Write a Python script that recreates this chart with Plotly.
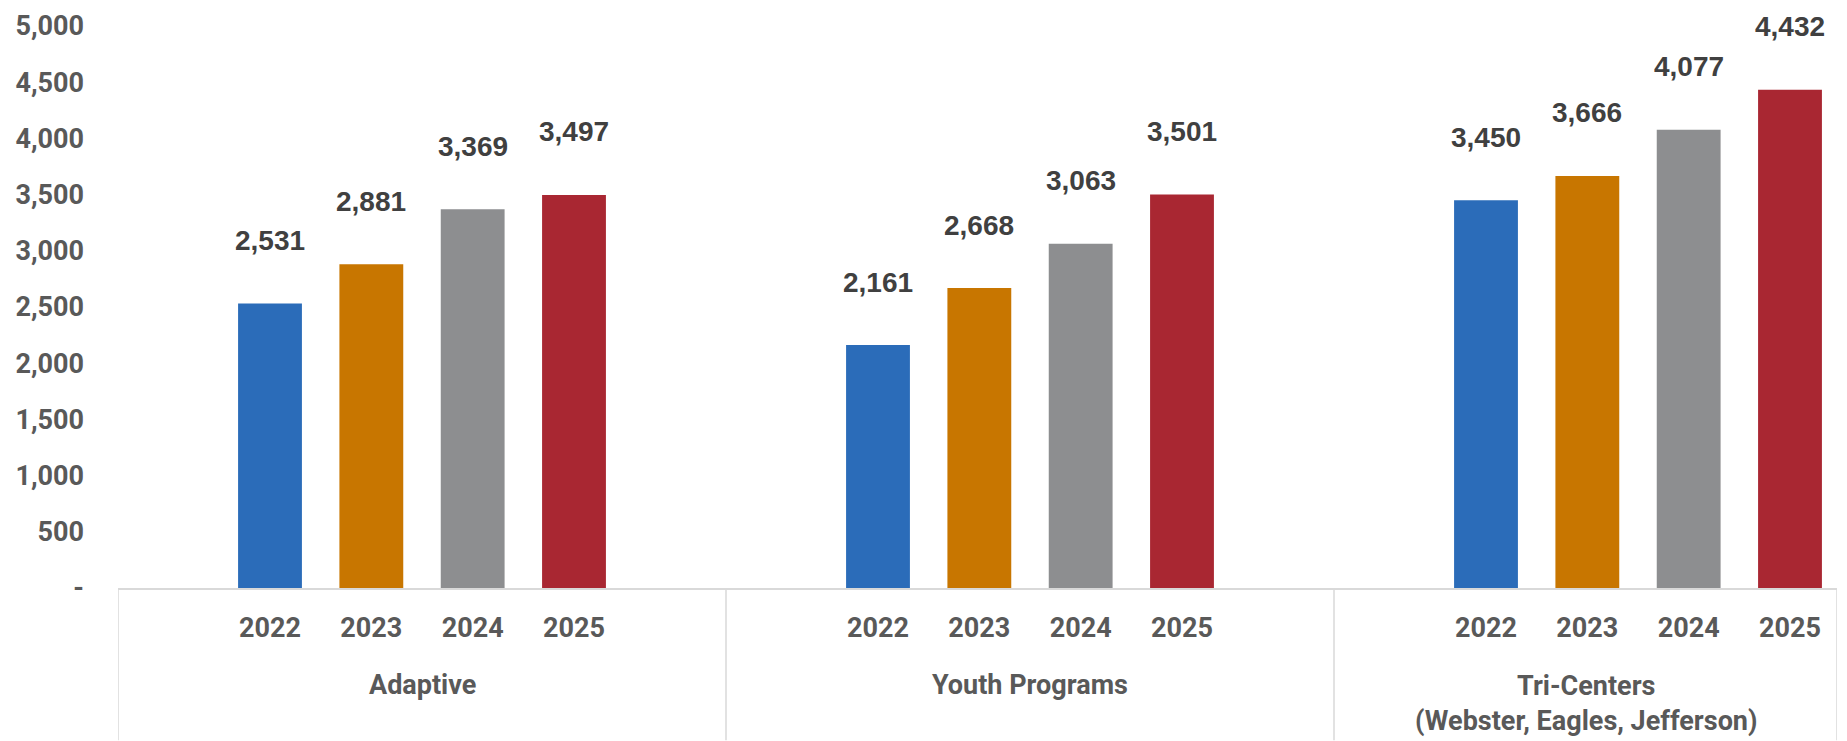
import plotly.graph_objects as go

# ---- data ----
groups = ["Adaptive", "Youth Programs", "Tri-Centers<br>(Webster, Eagles, Jefferson)"]
years = ["2022", "2023", "2024", "2025"]
values_2022 = [2531, 2161, 3450]
values_2023 = [2881, 2668, 3666]
values_2024 = [3369, 3063, 4077]
values_2025 = [3497, 3501, 4432]
series = [values_2022, values_2023, values_2024, values_2025]
colors = ["#2B6CB9", "#C87600", "#8D8E90", "#A92732"]
y_ticks = [0, 500, 1000, 1500, 2000, 2500, 3000, 3500, 4000, 4500, 5000]
y_ticktext = ["-", "500", "1,000", "1,500", "2,000", "2,500", "3,000", "3,500", "4,000", "4,500", "5,000"]

# ---- layout parameters ----
W, H = 1847, 741
ml, mr, mt, mb = 118, 10, 23, 153
slot = 1 / 6          # spacing between series in a group (category units)
bar_w = 0.105
x_end = -0.5 + (W - ml - mr) / 608.0   # last group partially visible as in original
font_fam = "Roboto"
data_fam = "Liberation Sans"
lab_col = "#595959"
dat_col = "#404040"
line_col = "#D9D9D9"

fig = go.Figure()
tickvals, ticktext = [], []
annotations = []
for k, (yr, vals, col) in enumerate(zip(years, series, colors)):
    xs = [g + (k - 1.5) * slot for g in range(len(groups))]
    fig.add_trace(go.Bar(x=xs, y=vals, width=bar_w, name=yr,
                         marker=dict(color=col, line=dict(width=0)),
                         hoverinfo="x+y"))
    tickvals += xs
    ticktext += [yr] * len(xs)
    for x, v in zip(xs, vals):
        annotations.append(dict(x=x, y=v, xref="x", yref="y", text=f"{v:,}",
                                showarrow=False, yanchor="middle", yshift=63,
                                font=dict(family=data_fam, size=28, color=dat_col, weight="bold")))

# group labels (centered within visible box of each group)
plot_h = H - mt - mb
for g, name in enumerate(groups):
    left = g - 0.5
    right = min(g + 0.5, x_end)
    multi = "<br>" in name
    annotations.append(dict(x=(left + right) / 2, y=0, xref="x", yref="paper",
                            text=name, showarrow=False, yanchor="middle",
                            yshift=-(115 if multi else 97),
                            font=dict(family=font_fam, size=27, color=lab_col, weight="bold")))

shapes = []
bounds = [g - 0.5 for g in range(len(groups))] + [x_end]
for b in bounds:
    shapes.append(dict(type="line", xref="x", yref="paper", x0=b, x1=b,
                       y0=0, y1=-mb / plot_h, line=dict(color=line_col, width=1.5)))

fig.update_layout(
    width=W, height=H,
    margin=dict(l=ml, r=mr, t=mt, b=mb, pad=0),
    paper_bgcolor="white", plot_bgcolor="white",
    showlegend=False,
    barmode="overlay",
    annotations=annotations,
    shapes=shapes,
    xaxis=dict(range=[-0.5, x_end], tickmode="array", tickvals=tickvals, ticktext=ticktext,
               showgrid=False, zeroline=False, showline=True, linecolor=line_col, linewidth=2,
               ticks="", ticklabelstandoff=15,
               tickfont=dict(family=font_fam, size=27, color=lab_col, weight="bold")),
    yaxis=dict(range=[0, 5000], tickmode="array", tickvals=y_ticks, ticktext=y_ticktext,
               showgrid=False, zeroline=False, showline=False, ticks="",
               ticklabelstandoff=33,
               tickfont=dict(family=font_fam, size=27, color=lab_col, weight="bold")),
)

fig.write_html("out.html")
